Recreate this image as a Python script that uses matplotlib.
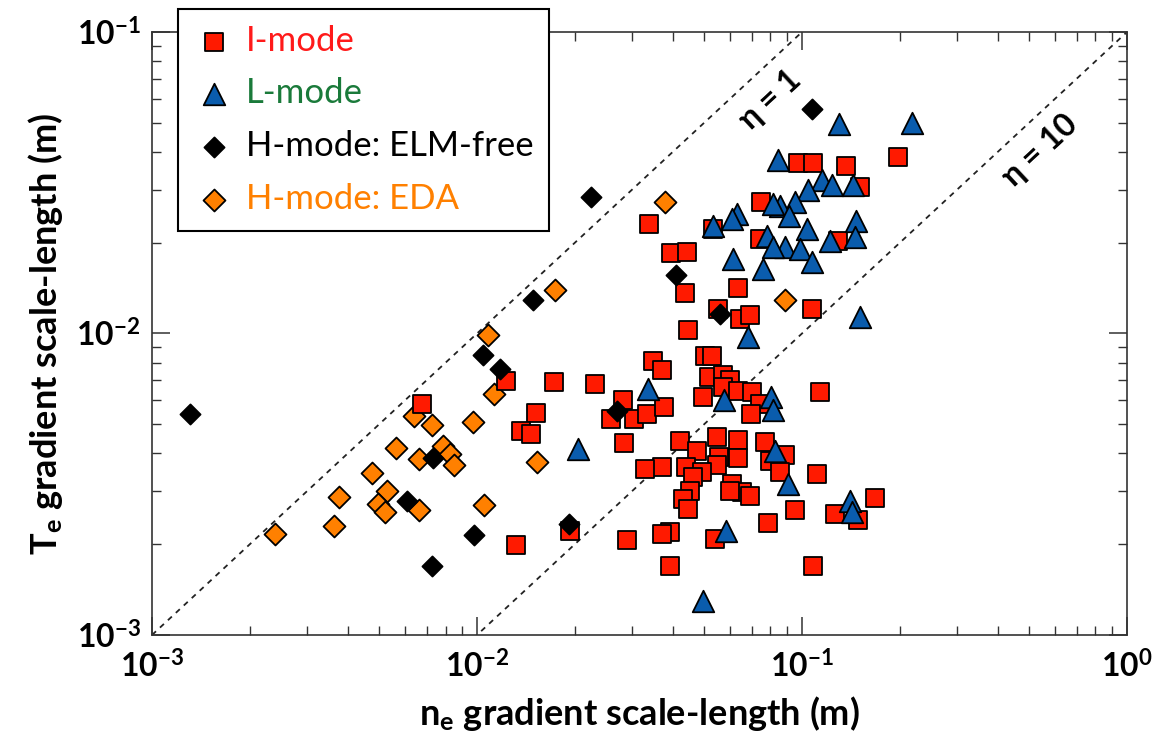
"""
Gradient scale-length comparison: Te vs ne, by confinement mode
"""
import matplotlib
matplotlib.use('Agg')
import matplotlib.pyplot as plt
import numpy as np

plt.rcParams['font.family'] = ['Lato', 'DejaVu Sans']
plt.rcParams['mathtext.fontset'] = 'custom'
plt.rcParams['mathtext.rm'] = 'Lato:bold'
plt.rcParams['mathtext.bf'] = 'Lato:bold'
plt.rcParams['mathtext.it'] = 'Lato:bold'

# I-mode (ne scale-length, Te scale-length) in m
imode_ne = [3.38e-2, 3.95e-2, 4.42e-2, 4.36e-2, 6.34e-2, 9.7e-2, 0.108, 0.137, 0.198, 0.151,
            7.5e-2, 5.33e-2, 0.129, 7.43e-2, 0.107, 5.53e-2, 6.45e-2, 6.92e-2, 4.47e-2, 3.49e-2,
            3.7e-2, 5.03e-2, 5.27e-2, 5.19e-2, 5.73e-2, 6.0e-2, 1.72e-2, 2.31e-2, 2.81e-2, 2.58e-2,
            3.04e-2, 3.34e-2, 3.77e-2, 4.97e-2, 5.73e-2, 6.37e-2, 7.0e-2, 7.43e-2, 6.97e-2, 0.114,
            2.83e-2, 4.21e-2, 4.74e-2, 5.46e-2, 6.37e-2, 7.69e-2, 8.87e-2, 7.97e-2, 6.37e-2, 5.57e-2,
            5.46e-2, 4.4e-2, 4.91e-2, 3.7e-2, 3.29e-2, 4.63e-2, 8.55e-2, 0.111, 6.08e-2, 6.52e-2,
            6.92e-2, 6.0e-2, 4.52e-2, 4.31e-2, 4.47e-2, 0.168, 0.1264, 0.149, 9.5e-2, 7.87e-2,
            5.4e-2, 3.93e-2, 3.7e-2, 2.89e-2, 1.93e-2, 3.93e-2, 0.108, 1.23e-2, 6.79e-3, 1.52e-2,
            1.37e-2, 1.47e-2, 1.32e-2]
imode_te = [2.31e-2, 1.85e-2, 1.87e-2, 1.36e-2, 1.42e-2, 3.67e-2, 3.67e-2, 3.59e-2, 3.85e-2, 3.06e-2,
            2.73e-2, 2.22e-2, 2.03e-2, 2.06e-2, 1.21e-2, 1.21e-2, 1.12e-2, 1.15e-2, 1.03e-2, 8.13e-3,
            7.54e-3, 8.39e-3, 8.44e-3, 7.16e-3, 7.26e-3, 6.99e-3, 6.9e-3, 6.81e-3, 6.03e-3, 5.21e-3,
            5.21e-3, 5.42e-3, 5.7e-3, 6.18e-3, 6.67e-3, 6.47e-3, 6.39e-3, 5.85e-3, 5.42e-3, 6.39e-3,
            4.32e-3, 4.41e-3, 4.09e-3, 4.53e-3, 4.44e-3, 4.36e-3, 3.94e-3, 3.79e-3, 3.87e-3, 3.88e-3,
            3.65e-3, 3.62e-3, 3.47e-3, 3.6e-3, 3.56e-3, 3.33e-3, 3.47e-3, 3.42e-3, 3.17e-3, 2.98e-3,
            2.9e-3, 3.01e-3, 3.01e-3, 2.83e-3, 2.62e-3, 2.85e-3, 2.52e-3, 2.4e-3, 2.59e-3, 2.35e-3,
            2.08e-3, 2.19e-3, 2.17e-3, 2.06e-3, 2.22e-3, 1.7e-3, 1.69e-3, 6.98e-3, 5.85e-3, 5.45e-3,
            4.74e-3, 4.65e-3, 1.99e-3]

# L-mode
lmode_ne = [0.130, 0.218, 8.45e-2, 0.115, 0.1234, 0.144, 0.1045, 9.5e-2, 8.55e-2, 8.16e-2,
            9.14e-2, 6.3e-2, 6.08e-2, 5.33e-2, 0.1466, 0.146, 0.122, 0.1034, 7.79e-2, 8.87e-2,
            9.86e-2, 8.16e-2, 0.107, 7.6e-2, 6.12e-2, 0.151, 6.84e-2, 3.37e-2, 5.75e-2, 8.03e-2,
            8.16e-2, 2.05e-2, 8.26e-2, 9.08e-2, 0.1405, 0.143, 5.84e-2, 4.97e-2]
lmode_te = [4.97e-2, 5.01e-2, 3.75e-2, 3.22e-2, 3.1e-2, 3.12e-2, 3.0e-2, 2.73e-2, 2.64e-2, 2.68e-2,
            2.46e-2, 2.49e-2, 2.4e-2, 2.28e-2, 2.37e-2, 2.09e-2, 2.03e-2, 2.22e-2, 2.11e-2, 1.93e-2,
            1.91e-2, 1.93e-2, 1.72e-2, 1.64e-2, 1.77e-2, 1.13e-2, 9.72e-3, 6.56e-3, 6.0e-3, 6.15e-3,
            5.56e-3, 4.15e-3, 4.09e-3, 3.17e-3, 2.79e-3, 2.55e-3, 2.21e-3, 1.3e-3]

# H-mode: ELM-free
elmfree_ne = [1.31e-3, 2.24e-2, 0.1076, 1.49e-2, 1.04e-2, 1.18e-2, 4.1e-2, 5.6e-2, 2.7e-2, 7.34e-3,
              6.08e-3, 9.81e-3, 1.92e-2, 7.26e-3]
elmfree_te = [5.42e-3, 2.83e-2, 5.56e-2, 1.29e-2, 8.5e-3, 7.64e-3, 1.56e-2, 1.16e-2, 5.52e-3, 3.87e-3,
              2.79e-3, 2.14e-3, 2.34e-3, 1.69e-3]

# H-mode: EDA
eda_ne = [3.79e-2, 1.74e-2, 8.87e-2, 1.08e-2, 1.13e-2, 6.4e-3, 7.29e-3, 9.74e-3, 1.53e-2, 5.62e-3,
          7.84e-3, 8.26e-3, 6.63e-3, 8.5e-3, 4.76e-3, 5.27e-3, 3.76e-3, 4.97e-3, 5.21e-3, 6.63e-3,
          1.05e-2, 3.64e-3, 2.39e-3]
eda_te = [2.73e-2, 1.39e-2, 1.29e-2, 9.85e-3, 6.31e-3, 5.34e-3, 4.96e-3, 5.08e-3, 3.74e-3, 4.18e-3,
          4.25e-3, 3.97e-3, 3.84e-3, 3.65e-3, 3.44e-3, 3.0e-3, 2.86e-3, 2.71e-3, 2.55e-3, 2.6e-3,
          2.69e-3, 2.3e-3, 2.17e-3]

fig = plt.figure(figsize=(11.56, 7.48), dpi=100)
ax = fig.add_axes([0.1315, 0.1511, 0.8434, 0.8061])

# eta reference lines
xl = np.array([1e-3, 1.0])
ax.plot(xl, xl, '--', color='#222222', lw=1.3, dashes=(3, 3), zorder=1)
ax.plot(xl, xl / 10, '--', color='#222222', lw=1.3, dashes=(3, 3), zorder=1)

ew = 1.3
ax.scatter(eda_ne, eda_te, marker='D', s=125, color='#ff8000', edgecolor='black',
           linewidth=ew, zorder=2, label='H-mode: EDA')
ax.scatter(imode_ne, imode_te, marker='s', s=180, color='#ff1a00', edgecolor='black',
           linewidth=ew, zorder=3, label='I-mode')
ax.scatter(lmode_ne, lmode_te, marker='^', s=240, color='#0a5cad', edgecolor='black',
           linewidth=ew, zorder=4, label='L-mode')
ax.scatter(elmfree_ne, elmfree_te, marker='D', s=105, color='black', edgecolor='black',
           linewidth=ew, zorder=5, label='H-mode: ELM-free')

ax.set_xscale('log')
ax.set_yscale('log')
ax.set_xlim(1e-3, 1)
ax.set_ylim(1e-3, 1e-1)

ax.set_xticks([1e-3, 1e-2, 1e-1, 1e0],
              [r'$\mathbf{10^{-3}}$', r'$\mathbf{10^{-2}}$', r'$\mathbf{10^{-1}}$', r'$\mathbf{10^{0}}$'])
ax.set_yticks([1e-3, 1e-2, 1e-1],
              [r'$\mathbf{10^{-3}}$', r'$\mathbf{10^{-2}}$', r'$\mathbf{10^{-1}}$'])
ax.tick_params(which='both', direction='in', top=True, right=True, color='#333333')
ax.tick_params(which='major', length=13, width=1.1, labelsize=23)
ax.tick_params(axis='x', which='major', pad=11)
ax.tick_params(axis='y', which='major', pad=8)
ax.tick_params(which='minor', length=6.5, width=1.0)
for sp in ax.spines.values():
    sp.set_color('#333333')
    sp.set_linewidth(1.2)

ax.set_xlabel(r'n$_\mathbf{e}$ gradient scale-length (m)', fontsize=26, fontweight='bold', labelpad=8)
ax.set_ylabel(r'T$_\mathbf{e}$ gradient scale-length (m)', fontsize=26, fontweight='bold', labelpad=8)

ax.text(0.634, 0.887, 'η = 1', transform=ax.transAxes, rotation=43, fontsize=23,
        fontweight='bold', ha='center', va='center')
ax.text(0.911, 0.804, 'η = 10', transform=ax.transAxes, rotation=43, fontsize=23,
        fontweight='bold', ha='center', va='center')

# legend in the original order
h, l = ax.get_legend_handles_labels()
order = [1, 2, 3, 0]
leg = ax.legend([h[i] for i in order], [l[i] for i in order],
                loc='upper left', bbox_to_anchor=(178 / 1156, 1 - 9 / 748),
                bbox_transform=fig.transFigure, borderaxespad=0, fontsize=25, frameon=True,
                fancybox=False, framealpha=1, edgecolor='black', handletextpad=0.3,
                labelspacing=0.6, borderpad=0.45, handlelength=1.2,
                labelcolor=['#ff1a1a', '#1a7a3a', 'black', '#ff8000'])
leg.get_frame().set_linewidth(1.5)
leg.set_zorder(10)

plt.savefig('out.png', dpi=100)
